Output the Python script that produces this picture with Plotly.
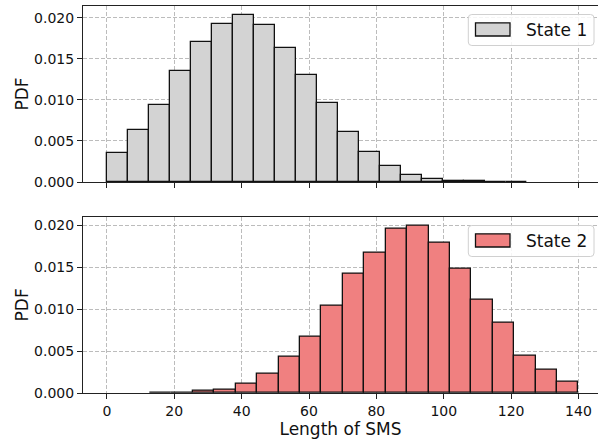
import plotly.graph_objects as go
from plotly.subplots import make_subplots

# ---- data ----
state1_bin_start = 0.0
state1_bin_width = 6.23
state1_pdf = [0.00357, 0.00633, 0.00933, 0.01351, 0.01704, 0.01927, 0.02037, 0.01911,
              0.01631, 0.01302, 0.00961, 0.00609, 0.00369, 0.00191, 0.00089, 0.00041,
              0.00016, 0.00008, 0.00004, 0.00002]

state2_bin_start = 12.8
state2_bin_width = 6.36
state2_pdf = [0.00004, 0.00008, 0.00024, 0.00036, 0.00115, 0.00235, 0.00433, 0.00676,
              0.01038, 0.01416, 0.01670, 0.01960, 0.01996, 0.01793, 0.01479, 0.01109,
              0.00835, 0.00445, 0.00278, 0.00139]

series_names = ["State 1", "State 2"]
x_ticks = [0, 20, 40, 60, 80, 100, 120, 140]
y_ticks = [0.000, 0.005, 0.010, 0.015, 0.020]

FONT = "DejaVu Sans"
W, H = 598, 444
ML, MR, MT, MB = 83, 0, 6, 51
PW, PH = W - ML - MR, H - MT - MB


def px_to_paper(x, y):
    return (x - ML) / PW, (H - MB - y) / PH


top_bottom_px, bot_top_px = 182.0, 216.7
top_dom = [px_to_paper(0, top_bottom_px)[1], 1.0]
bot_dom = [0.0, px_to_paper(0, bot_top_px)[1]]

fig = make_subplots(rows=2, cols=1, shared_xaxes=True)


def centers(start, width, n):
    return [start + width * (i + 0.5) for i in range(n)]


fig.add_trace(go.Bar(x=centers(state1_bin_start, state1_bin_width, len(state1_pdf)),
                     y=state1_pdf, width=state1_bin_width, name=series_names[0],
                     marker=dict(color="#d3d3d3", line=dict(color="#111111", width=1.3)),
                     showlegend=False), row=1, col=1)
fig.add_trace(go.Bar(x=centers(state2_bin_start, state2_bin_width, len(state2_pdf)),
                     y=state2_pdf, width=state2_bin_width, name=series_names[1],
                     marker=dict(color="#f08080", line=dict(color="#111111", width=1.3)),
                     showlegend=False), row=2, col=1)

xr = [-7.1, 145.8]
common_x = dict(range=xr, tickvals=x_ticks, ticks="outside", ticklen=5, tickwidth=1.1,
                tickcolor="#222", showline=True, linecolor="#222", linewidth=1.1, mirror=True,
                showgrid=True, gridcolor="#bcbcbc", griddash="4px,2px", gridwidth=1,
                zeroline=False, tickfont=dict(family=FONT, size=14, color="#111"))
common_y = dict(tickvals=y_ticks, tickformat=".3f", ticks="outside", ticklen=5, tickwidth=1.1,
                tickcolor="#222", showline=True, linecolor="#222", linewidth=1.1, mirror=False,
                showgrid=True, gridcolor="#bcbcbc", griddash="4px,2px", gridwidth=1,
                zeroline=False, tickfont=dict(family=FONT, size=14, color="#111"),
                title=dict(text="PDF", font=dict(family=FONT, size=17, color="#111"), standoff=1))

fig.update_xaxes(**common_x, showticklabels=False, row=1, col=1)
fig.update_xaxes(**common_x, showticklabels=True,
                 title=dict(text="Length of SMS", font=dict(family=FONT, size=17, color="#111"),
                            standoff=5), row=2, col=1)
fig.update_yaxes(**common_y, range=[0, 0.02142], domain=top_dom, row=1, col=1)
fig.update_yaxes(**common_y, range=[0, 0.02099], domain=bot_dom, row=2, col=1)

# ---- legends drawn as boxes + swatches + text ----
shapes = []
annotations = []


def rounded_rect(x0, y0, x1, y1, r):
    rx, ry = r / PW, r / PH
    (a0, b0), (a1, b1) = px_to_paper(x0, y0), px_to_paper(x1, y1)
    return (f"M {a0+rx},{b0} L {a1-rx},{b0} Q {a1},{b0} {a1},{b0-ry} "
            f"L {a1},{b1+ry} Q {a1},{b1} {a1-rx},{b1} L {a0+rx},{b1} "
            f"Q {a0},{b1} {a0},{b1+ry} L {a0},{b0-ry} Q {a0},{b0} {a0+rx},{b0} Z")


for name, color, ytop in [(series_names[0], "#d3d3d3", 14.5), (series_names[1], "#f08080", 225.5)]:
    shapes.append(dict(type="path", xref="paper", yref="paper",
                       path=rounded_rect(468.3, ytop, 594.0, ytop + 31.0, 3.5),
                       fillcolor="rgba(255,255,255,0.85)", line=dict(color="#d0d0d0", width=1)))
    sx0, sy0 = px_to_paper(475.5, ytop + 8.3)
    sx1, sy1 = px_to_paper(510.0, ytop + 21.5)
    shapes.append(dict(type="rect", xref="paper", yref="paper", x0=sx0, y0=sy1, x1=sx1, y1=sy0,
                       fillcolor=color, line=dict(color="#111111", width=1.3)))
    tx, ty = px_to_paper(523.5, ytop + 15.2)
    annotations.append(dict(xref="paper", yref="paper", x=tx, y=ty, xanchor="left",
                            yanchor="middle", text=name, showarrow=False,
                            font=dict(family=FONT, size=17, color="#111")))

fig.update_layout(width=W, height=H, margin=dict(l=ML, r=MR, t=MT, b=MB),
                  plot_bgcolor="white", paper_bgcolor="white", bargap=0,
                  shapes=shapes, annotations=annotations,
                  font=dict(family=FONT, color="#111"))

fig.write_html("out.html", config={"displayModeBar": False},
               post_script="document.body.style.margin='0px';document.body.style.overflow='hidden';")
